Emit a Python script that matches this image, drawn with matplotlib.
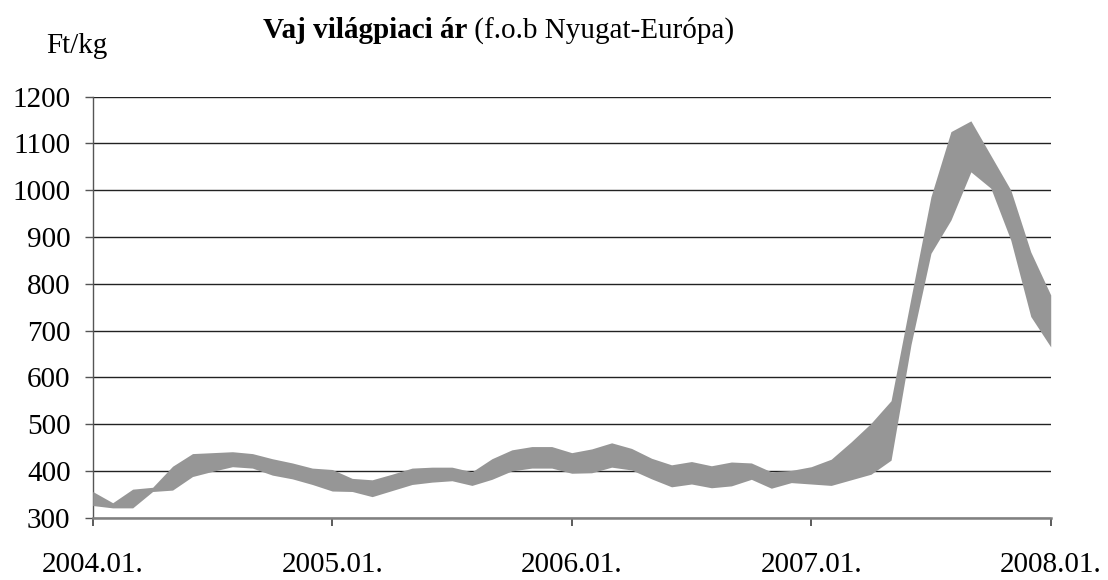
import numpy as np
import matplotlib
matplotlib.use("Agg")
import matplotlib.pyplot as plt

# havi árak, 2004.01 - 2008.01 (Ft/kg), sáv alsó és felső széle
price_high = [356, 332, 361, 365, 410, 437, 439, 441, 437, 426, 417, 406,
              403, 384, 381, 393, 406, 408, 408, 398, 426, 445, 452, 452,
              439, 447, 460, 448, 427, 413, 420, 411, 419, 417, 398, 401,
              409, 425, 462, 502, 550, 770, 986, 1125, 1148, 1074, 1000, 868,
              776]
price_low = [326, 321, 321, 356, 359, 388, 399, 409, 406, 391, 383, 371,
             357, 356, 345, 358, 371, 376, 379, 369, 382, 400, 406, 406,
             395, 396, 408, 402, 383, 366, 372, 364, 368, 382, 363, 375,
             372, 369, 381, 393, 423, 670, 865, 936, 1039, 1004, 893, 730,
             665]
tick_months = [0, 12, 24, 36, 48]
tick_labels = ['2004.01.', '2005.01.', '2006.01.', '2007.01.', '2008.01.']
y_ticks = [300, 400, 500, 600, 700, 800, 900, 1000, 1100, 1200]

plt.rcParams['font.family'] = ['Liberation Serif', 'DejaVu Serif']
plt.rcParams['font.size'] = 21

fig = plt.figure(figsize=(11.08, 5.8), dpi=100)
ax = fig.add_axes([0.0837, 0.1074, 0.8646, 0.7262])

months = np.arange(len(price_high))
ax.fill_between(months, price_low, price_high, color='#969696', linewidth=0, zorder=3)

ax.set_xlim(0, 48)
ax.set_ylim(300, 1200)
ax.set_yticks(y_ticks)
ax.set_xticks(tick_months)
ax.set_xticklabels(tick_labels)

ax.grid(axis='y', color='#222222', linewidth=1.0, zorder=1)
ax.set_axisbelow(True)
for side in ['top', 'right']:
    ax.spines[side].set_visible(False)
ax.spines['bottom'].set_color('#808080')
ax.spines['bottom'].set_linewidth(1.8)
ax.spines['left'].set_color('#555555')
ax.spines['left'].set_linewidth(1.0)
ax.tick_params(axis='x', direction='out', length=6, width=1.2, color='#404040', pad=19)
ax.tick_params(axis='y', direction='out', length=6, width=1.0, color='#555555', pad=10)

fig.text(46 / 1108, 1 - 53 / 580, 'Ft/kg', ha='left', va='baseline')

t1 = fig.text(263 / 1108, 1 - 38 / 580, 'Vaj világpiaci ár', ha='left', va='baseline',
              fontweight='bold')
ax.annotate(' (f.o.b Nyugat-Európa)', xy=(1, 0), xycoords=t1, ha='left', va='bottom')

fig.savefig('out.png', dpi=100)
